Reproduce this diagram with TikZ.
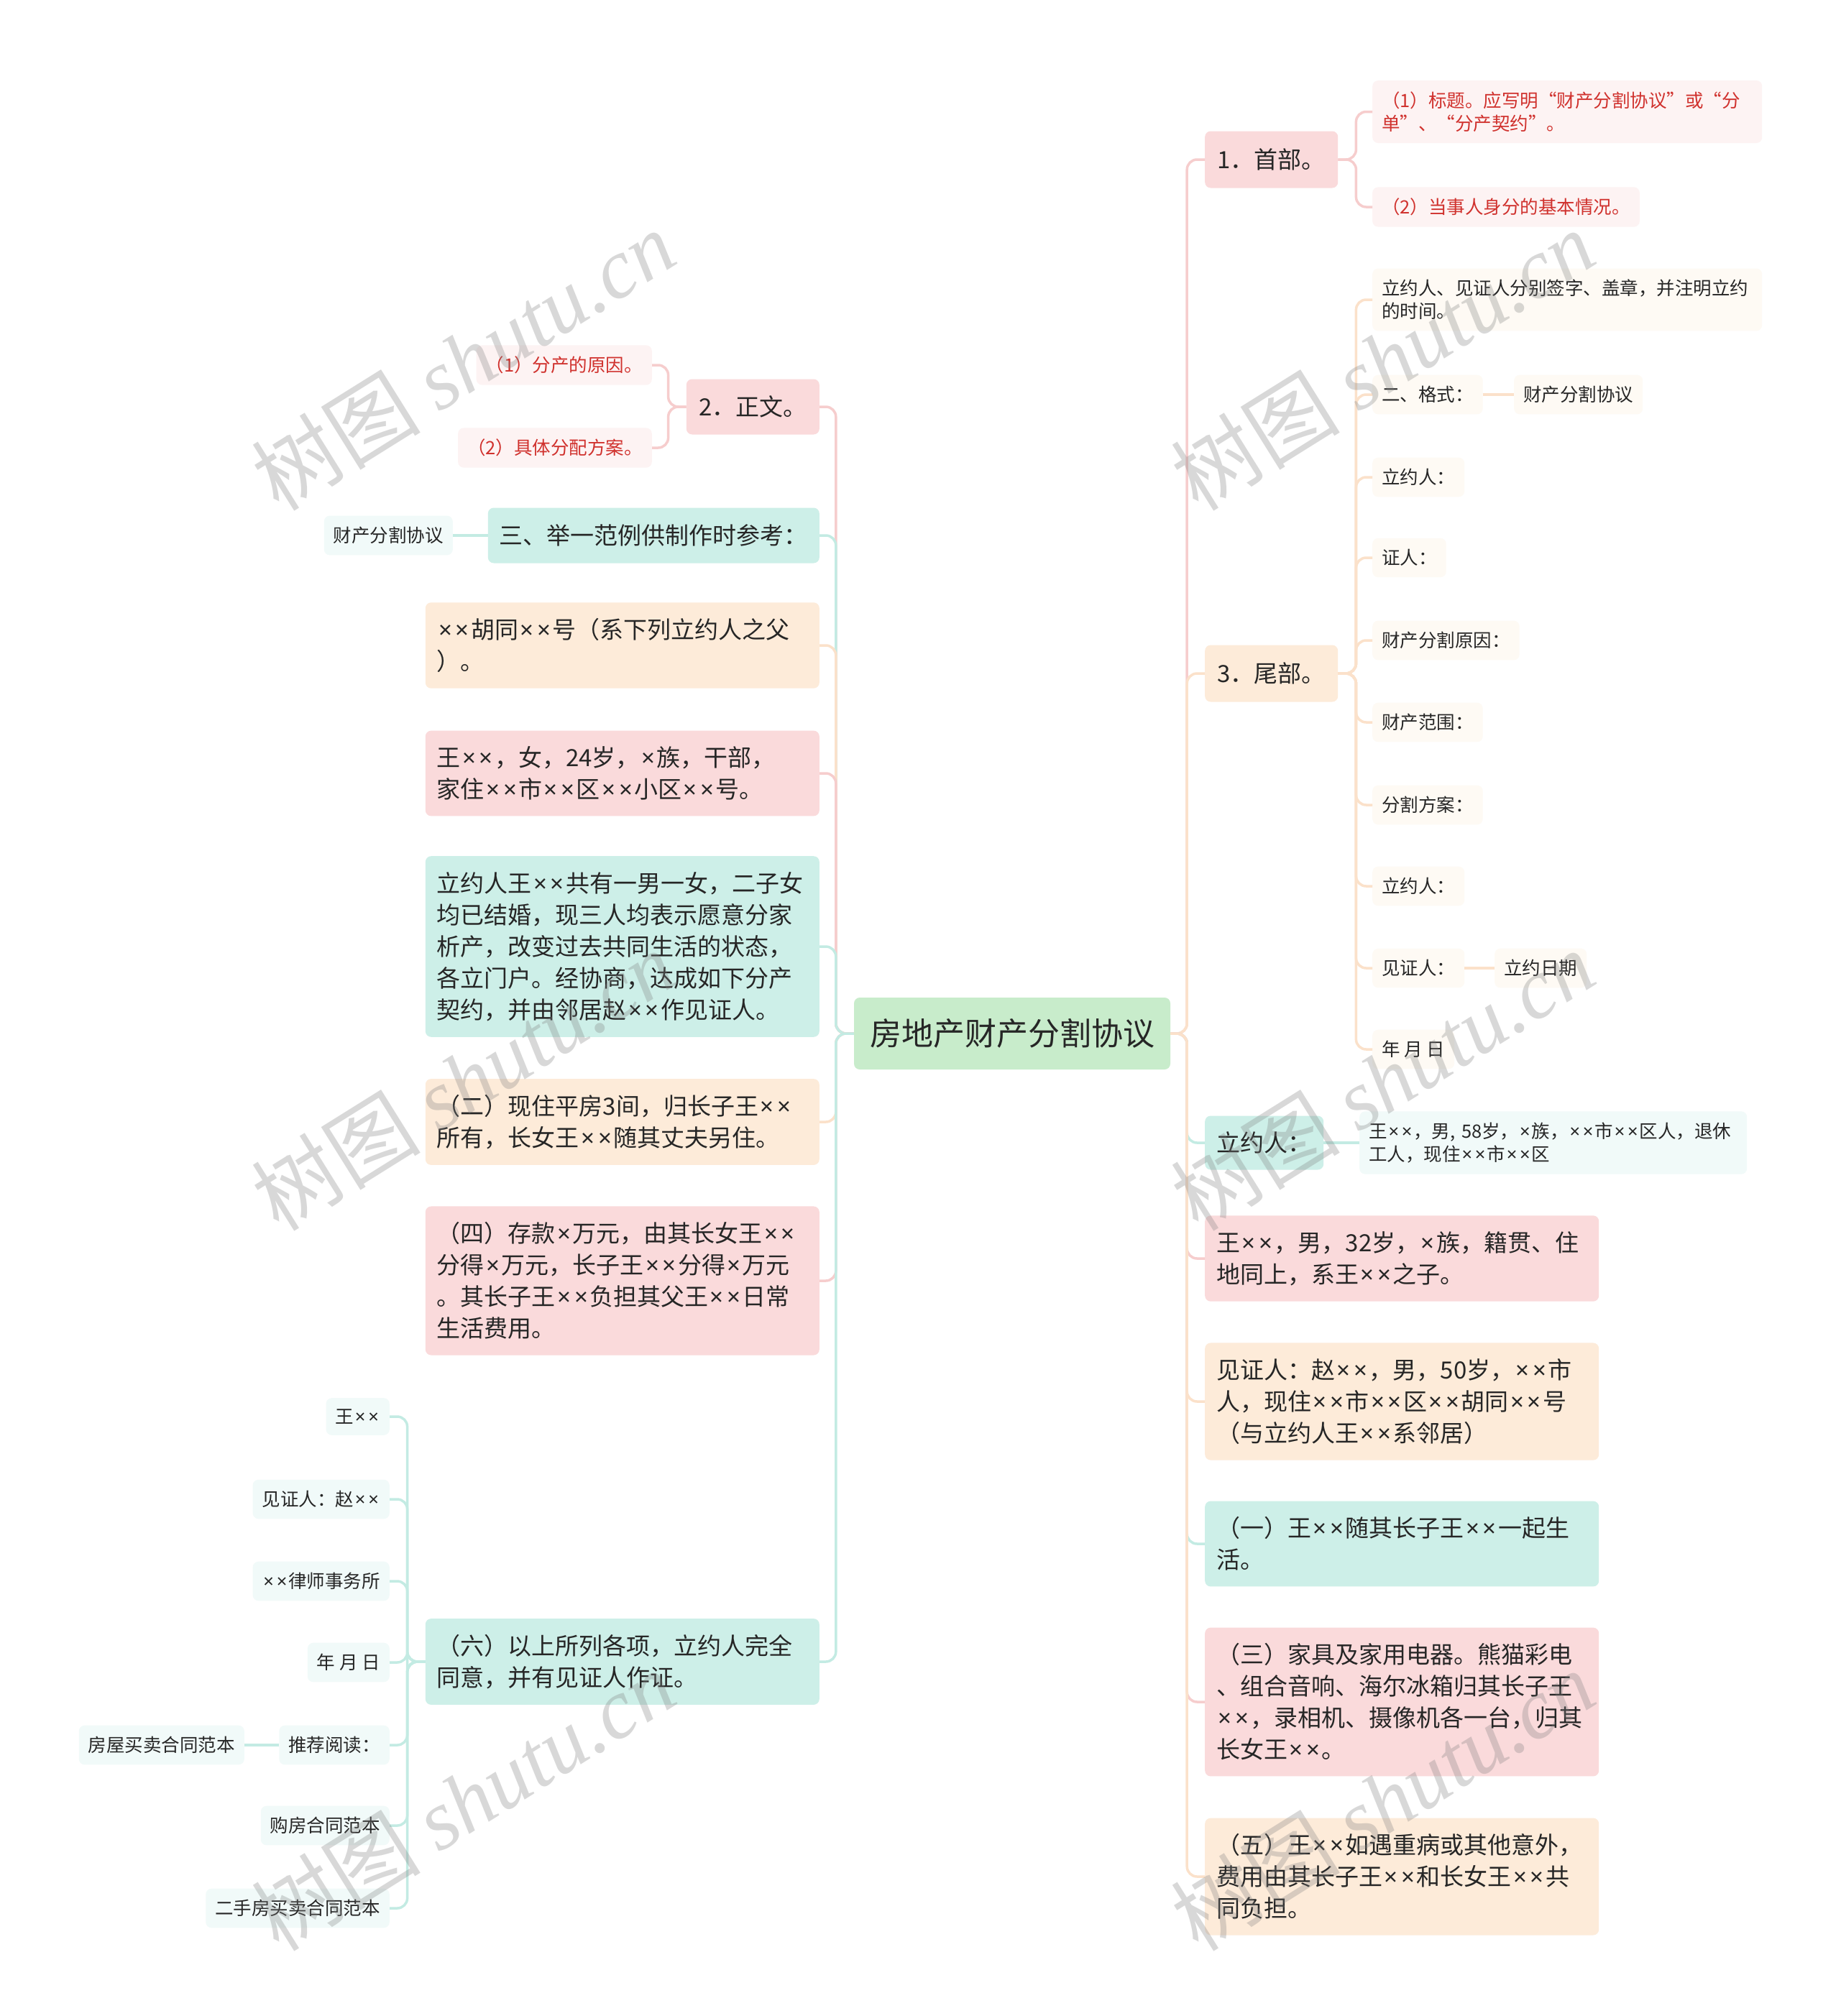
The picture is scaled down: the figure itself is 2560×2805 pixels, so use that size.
\documentclass[tikz,border=0pt]{standalone}
\usepackage{fontspec}
\setmainfont{Noto Sans CJK SC}
\newfontfamily\wmlatin{Liberation Serif}
\newfontfamily\latinfont{Noto Sans}
\newcommand\xm{\makebox[0.72em]{\latinfont ×}}
\definecolor{greenfill}{HTML}{C8ECCB}
\definecolor{pinkfill}{HTML}{FADADB}
\definecolor{orangefill}{HTML}{FDEBD9}
\definecolor{tealfill}{HTML}{CDEFE8}
\definecolor{pinkline}{HTML}{F6CDCD}
\definecolor{orangeline}{HTML}{FBE1CA}
\definecolor{tealline}{HTML}{C3EBE3}
\definecolor{lpink}{HTML}{FDF3F3}
\definecolor{lcream}{HTML}{FEFAF4}
\definecolor{lteal}{HTML}{F1FAF9}
\definecolor{redtxt}{HTML}{D0312D}
\definecolor{txt}{HTML}{262626}
\begin{document}
\begin{tikzpicture}[x=1pt,y=-1pt,
  box/.style={rounded corners=8pt, text=txt, align=left},
  big/.style={box, font=\fontsize{33}{44}\selectfont, inner xsep=16pt, inner ysep=22pt},
  small/.style={box, font=\fontsize{25.5}{32}\selectfont, inner xsep=13pt, inner ysep=15.5pt},
  wide/.style={text width=516pt},
  leafpink/.style={small, fill=lpink, text=redtxt},
  leafcream/.style={small, fill=lcream},
  leafteal/.style={small, fill=lteal},
  lk/.style={line width=3.5pt, rounded corners=14pt},
  wm/.style={rotate=32, text=gray, opacity=0.3, font=\fontsize{118}{118}\selectfont}
]
\fill[white] (0,0) rectangle (2560,2805);
\useasboundingbox (0,0) rectangle (2560,2805);

% central
\node[big, fill=greenfill, font=\fontsize{44}{52}\selectfont, minimum width=440pt, minimum height=100pt, inner xsep=20pt] (C) at (1408,1438) {房地产财产分割协议};

% right side
\node[big, fill=pinkfill, anchor=west, minimum width=185pt, minimum height=79pt] (R1) at (1676,222) {1．首部。};
\node[leafpink, anchor=west, wide] (R1a) at (1909,155.5) {（1）标题。应写明“财产分割协议”或“分\\单”、“分产契约”。};
\node[leafpink, anchor=west] (R1b) at (1909,288) {（2）当事人身分的基本情况。};

\node[big, fill=orangefill, anchor=west, minimum width=185pt, minimum height=79pt] (R3) at (1676,937) {3．尾部。};
\node[leafcream, anchor=west, wide] (R3a) at (1909,417) {立约人、见证人分别签字、盖章，并注明立约\\的时间。};
\node[leafcream, anchor=west] (R3b) at (1909,549) {二、格式：};
\node[leafcream, anchor=west] (R3b1) at (2106,549) {财产分割协议};
\node[leafcream, anchor=west] (R3c) at (1909,664) {立约人：};
\node[leafcream, anchor=west] (R3d) at (1909,776) {证人：};
\node[leafcream, anchor=west] (R3e) at (1909,891) {财产分割原因：};
\node[leafcream, anchor=west] (R3f) at (1909,1005) {财产范围：};
\node[leafcream, anchor=west] (R3g) at (1909,1120) {分割方案：};
\node[leafcream, anchor=west] (R3h) at (1909,1233) {立约人：};
\node[leafcream, anchor=west] (R3i) at (1909,1347) {见证人：};
\node[leafcream, anchor=west] (R3i1) at (2079,1347) {立约日期};
\node[leafcream, anchor=west] (R3j) at (1909,1460) {年 月 日};

\node[big, fill=tealfill, anchor=west, minimum width=165pt, minimum height=75pt] (R4) at (1676,1590) {立约人：};
\node[leafteal, anchor=west, text width=513pt] (R4a) at (1891,1590) {王\xm\xm，男, 58岁，\xm 族，\xm\xm 市\xm\xm 区人，退休\\工人，现住\xm\xm 市\xm\xm 区};

\node[big, fill=pinkfill, anchor=west, wide] (R5) at (1676,1751) {王\xm\xm，男，32岁，\xm 族，籍贯、住\\地同上，系王\xm\xm 之子。};
\node[big, fill=orangefill, anchor=west, wide] (R6) at (1676,1950) {见证人：赵\xm\xm，男，50岁，\xm\xm 市\\人，现住\xm\xm 市\xm\xm 区\xm\xm 胡同\xm\xm 号\\（与立约人王\xm\xm 系邻居）};
\node[big, fill=tealfill, anchor=west, wide] (R7) at (1676,2148) {（一）王\xm\xm 随其长子王\xm\xm 一起生\\活。};
\node[big, fill=pinkfill, anchor=west, wide] (R8) at (1676,2368) {（三）家具及家用电器。熊猫彩电\\、组合音响、海尔冰箱归其长子王\\\xm\xm，录相机、摄像机各一台，归其\\长女王\xm\xm。};
\node[big, fill=orangefill, anchor=west, wide] (R9) at (1676,2611) {（五）王\xm\xm 如遇重病或其他意外，\\费用由其长子王\xm\xm 和长女王\xm\xm 共\\同负担。};

% left side
\node[big, fill=pinkfill, anchor=east, minimum width=185pt, minimum height=77pt] (L2) at (1140,566) {2．正文。};
\node[leafpink, anchor=east] (L2a) at (907,508) {（1）分产的原因。};
\node[leafpink, anchor=east] (L2b) at (907,623) {（2）具体分配方案。};
\node[big, fill=tealfill, anchor=east, minimum height=77pt] (L3) at (1140,745) {三、举一范例供制作时参考：};
\node[leafteal, anchor=east] (L3a) at (630,745) {财产分割协议};
\node[big, fill=orangefill, anchor=east, wide] (L4) at (1140,898) {\xm\xm 胡同\xm\xm 号（系下列立约人之父\\）。};
\node[big, fill=pinkfill, anchor=east, wide] (L5) at (1140,1076) {王\xm\xm，女，24岁，\xm 族，干部，\\家住\xm\xm 市\xm\xm 区\xm\xm 小区\xm\xm 号。};
\node[big, fill=tealfill, anchor=east, wide] (L6) at (1140,1317) {立约人王\xm\xm 共有一男一女，二子女\\均已结婚，现三人均表示愿意分家\\析产，改变过去共同生活的状态，\\各立门户。经协商，达成如下分产\\契约，并由邻居赵\xm\xm 作见证人。};
\node[big, fill=orangefill, anchor=east, wide] (L7) at (1140,1561) {（二）现住平房3间，归长子王\xm\xm\\所有，长女王\xm\xm 随其丈夫另住。};
\node[big, fill=pinkfill, anchor=east, wide] (L8) at (1140,1782) {（四）存款\xm 万元，由其长女王\xm\xm\\分得\xm 万元，长子王\xm\xm 分得\xm 万元\\。其长子王\xm\xm 负担其父王\xm\xm 日常\\生活费用。};
\node[big, fill=tealfill, anchor=east, wide] (L9) at (1140,2312) {（六）以上所列各项，立约人完全\\同意，并有见证人作证。};
\node[leafteal, anchor=east] (L9a) at (542,1971) {王\xm\xm};
\node[leafteal, anchor=east] (L9b) at (542,2086) {见证人：赵\xm\xm};
\node[leafteal, anchor=east] (L9c) at (542,2200) {\xm\xm 律师事务所};
\node[leafteal, anchor=east] (L9d) at (542,2313) {年 月 日};
\node[leafteal, anchor=east] (L9e) at (542,2428) {推荐阅读：};
\node[leafteal, anchor=east] (L9e1) at (340,2428) {房屋买卖合同范本};
\node[leafteal, anchor=east] (L9f) at (542,2540) {购房合同范本};
\node[leafteal, anchor=east] (L9g) at (542,2655) {二手房买卖合同范本};

% connectors right
\foreach \n/\c in {R1/pinkline,R3/orangeline,R4/tealline,R5/pinkline,R6/orangeline,R7/tealline,R8/pinkline,R9/orangeline}
  \draw[lk, draw=\c] (C.east) -- ++(23,0) |- (\n.west);
\foreach \n in {R1a,R1b}
  \draw[lk, draw=pinkline] (R1.east) -- ++(25,0) |- (\n.west);
\foreach \n in {R3a,R3b,R3c,R3d,R3e,R3f,R3g,R3h,R3i,R3j}
  \draw[lk, draw=orangeline] (R3.east) -- ++(25,0) |- (\n.west);
\draw[lk, draw=orangeline] (R3b.east) -- (R3b1.west);
\draw[lk, draw=orangeline] (R3i.east) -- (R3i1.west);
\draw[lk, draw=tealline] (R4.east) -- (R4a.west);

% connectors left
\foreach \n/\c in {L2/pinkline,L3/tealline,L4/orangeline,L5/pinkline,L6/tealline,L7/orangeline,L8/pinkline,L9/tealline}
  \draw[lk, draw=\c] (C.west) -- ++(-25,0) |- (\n.east);
\foreach \n in {L2a,L2b}
  \draw[lk, draw=pinkline] (L2.west) -- ++(-25,0) |- (\n.east);
\draw[lk, draw=tealline] (L3.west) -- (L3a.east);
\foreach \n in {L9a,L9b,L9c,L9d,L9e,L9f,L9g}
  \draw[lk, draw=tealline] (L9.west) -- ++(-25,0) |- (\n.east);
\draw[lk, draw=tealline] (L9e.west) -- (L9e1.east);

% watermark
\foreach \x/\y [count=\i] in {644/501, 1923/501, 644/1503, 1923/1503, 644/2505, 1923/2505}
  \node[wm] (wm\i) at (\x,\y) {树图 {\wmlatin\itshape shutu.cn}};
\end{tikzpicture}
\end{document}
